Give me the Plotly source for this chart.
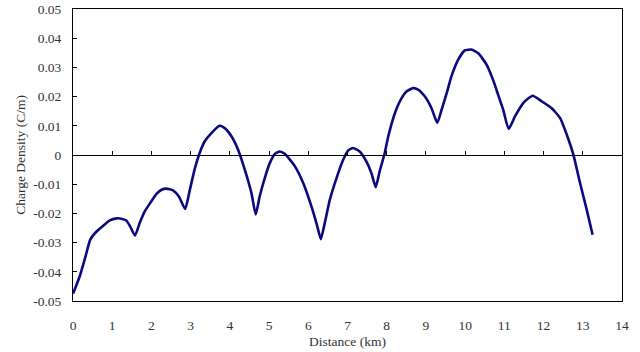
import plotly.graph_objects as go

distance_km = [0, 0.17, 0.32, 0.44, 0.60, 0.77, 0.94, 1.11, 1.23, 1.36,
               1.46, 1.58, 1.70, 1.83, 1.97, 2.13, 2.26, 2.38, 2.55, 2.70,
               2.86, 2.98, 3.10, 3.23, 3.36, 3.53, 3.74, 3.87, 4.04, 4.21,
               4.38, 4.55, 4.66, 4.76, 4.89, 5.02, 5.15, 5.27, 5.40, 5.66,
               5.87, 6.08, 6.22, 6.32, 6.42, 6.55, 6.72, 6.89, 7.02, 7.14,
               7.31, 7.48, 7.61, 7.72, 7.82, 7.95, 8.04, 8.21, 8.38, 8.51,
               8.67, 8.80, 8.97, 9.14, 9.29, 9.40, 9.53, 9.65, 9.82, 9.99,
               10.16, 10.33, 10.55, 10.71, 10.84, 10.97, 11.11, 11.27, 11.48, 11.72,
               11.95, 12.20, 12.42, 12.59, 12.76, 12.93, 13.10, 13.25]

charge_density = [-0.0475, -0.0416, -0.0347, -0.0290, -0.0262, -0.0242, -0.0224, -0.0217, -0.0218, -0.0224,
                  -0.0245, -0.0276, -0.0233, -0.0193, -0.0164, -0.0133, -0.0119, -0.0115, -0.0121, -0.0142,
                  -0.0185, -0.0119, -0.0050, 0.0007, 0.0047, 0.0075, 0.0100, 0.0092, 0.0064, 0.0018,
                  -0.0050, -0.0130, -0.0204, -0.0142, -0.0079, -0.0027, 0.0004, 0.0012, 0.0004, -0.0039,
                  -0.0096, -0.0176, -0.0239, -0.0288, -0.0233, -0.0153, -0.0079, -0.0016, 0.0016, 0.0024,
                  0.0012, -0.0022, -0.0062, -0.0110, -0.0056, 0.0007, 0.0064, 0.0144, 0.0195, 0.0218,
                  0.0229, 0.0224, 0.0201, 0.0161, 0.0110, 0.0155, 0.0212, 0.0269, 0.0326, 0.0358,
                  0.0361, 0.0349, 0.0309, 0.0258, 0.0207, 0.0155, 0.0089, 0.0132, 0.0178, 0.0203,
                  0.0184, 0.0161, 0.0127, 0.0070, 0.0001, -0.0096, -0.0187, -0.0273]

x_tick_vals = list(range(0, 15))
x_tick_text = [str(v) for v in x_tick_vals]
y_tick_vals = [0.05, 0.04, 0.03, 0.02, 0.01, 0, -0.01, -0.02, -0.03, -0.04, -0.05]
y_tick_text = ["0.05", "0.04", "0.03", "0.02", "0.01", "0",
               "-0.01", "-0.02", "-0.03", "-0.04", "-0.05"]

x_title = "Distance (km)"
y_title = "Charge Density (C/m)"

font_family = "Liberation Serif"
text_color = "#333333"
tick_font = dict(family=font_family, size=13.5, color=text_color)

fig = go.Figure()
fig.add_trace(go.Scatter(
    x=distance_km, y=charge_density, mode="lines",
    line=dict(color="#0a0a80", width=2.6, shape="spline", smoothing=0.5),
    hoverinfo="skip", showlegend=False,
))
# invisible copy on the zero-line axis so it is drawn
fig.add_trace(go.Scatter(
    x=distance_km, y=charge_density, mode="lines", xaxis="x2",
    line=dict(color="rgba(0,0,0,0)", width=0),
    hoverinfo="skip", showlegend=False,
))

fig.update_layout(
    width=640, height=352,
    margin=dict(l=73, r=18, t=9, b=51, autoexpand=False),
    paper_bgcolor="white", plot_bgcolor="white",
    font=dict(family=font_family, size=13, color=text_color),
    xaxis=dict(
        range=[0, 14], tickmode="array", tickvals=x_tick_vals, ticktext=x_tick_text,
        showgrid=False, zeroline=False, ticks="", ticklabelstandoff=12,
        tickfont=tick_font, automargin=False,
        showline=True, linecolor="black", linewidth=1, mirror=True,
        title=dict(text=x_title, standoff=4, font=dict(family=font_family, size=13.5, color=text_color)),
    ),
    xaxis2=dict(
        range=[0, 14], overlaying="x", anchor="free", position=0.5,
        tickmode="array", tickvals=x_tick_vals, showticklabels=False,
        ticks="inside", ticklen=4, tickcolor="black", tickwidth=1,
        showline=True, linecolor="black", linewidth=1,
        showgrid=False, zeroline=False, automargin=False,
    ),
    yaxis=dict(
        range=[-0.05, 0.05], tickmode="array", tickvals=y_tick_vals, ticktext=y_tick_text,
        showgrid=False, zeroline=False, ticks="inside", ticklen=4, tickcolor="black",
        ticklabelstandoff=8, tickfont=tick_font, automargin=False,
        showline=True, linecolor="black", linewidth=1, mirror=True,
        title=dict(text=y_title, standoff=4, font=dict(family=font_family, size=13.5, color=text_color)),
    ),
)

fig.write_html("out.html", config={"displayModeBar": False},
               post_script="document.body.style.margin='0';document.body.style.overflow='hidden';")
